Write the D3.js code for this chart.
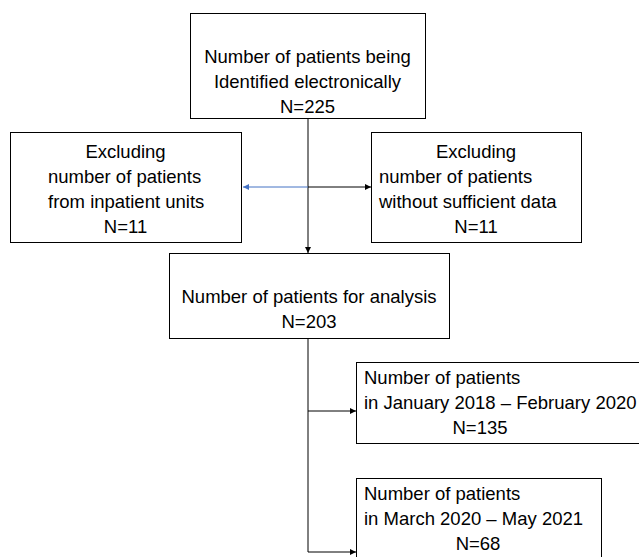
<!DOCTYPE html>
<html><head><meta charset="utf-8">
<script src="https://cdn.jsdelivr.net/npm/d3@7"></script>
<style>body{margin:0;background:#fff}</style>
</head><body>
<svg width="639" height="557"></svg>
<script>
const svg = d3.select('svg');

// flowchart content
const boxIds = ['identified', 'inpatient', 'insufficient', 'analysis', 'period1', 'period2'];
const boxLines = [
  [['Number of patients being', 'c'], ['Identified electronically', 'c'], ['N=225', 'c']],
  [['Excluding', 'c'], ['number of patients', 'l'], ['from inpatient units', 'l'], ['N=11', 'c']],
  [['Excluding', 'c'], ['number of patients', 'l'], ['without sufficient data', 'l'], ['N=11', 'c']],
  [['Number of patients for analysis', 'c'], ['N=203', 'c']],
  [['Number of patients', 'l'], ['in January 2018 \u2013 February 2020', 'l'], ['N=135', 'c']],
  [['Number of patients', 'l'], ['in March 2020 \u2013 May 2021', 'l'], ['N=68', 'c']]
];

// layout
const boxes = {
  identified:   {x: 190, y: 13,  w: 235, h: 105, top: 57, pad: 0},
  inpatient:    {x: 10,  y: 132, w: 231, h: 110, top: 152, pad: 38},
  insufficient: {x: 371, y: 132, w: 210, h: 110, top: 152, pad: 8},
  analysis:     {x: 169, y: 253, w: 280, h: 85,  top: 297, pad: 0},
  period1:      {x: 356, y: 362, w: 290, h: 81,  top: 378, pad: 8},
  period2:      {x: 356, y: 478, w: 245, h: 85,  top: 494, pad: 8}
};
const lineH = 25;

svg.append('defs').selectAll('marker')
  .data([['arrBlack', '#000'], ['arrBlue', '#4472c4']])
  .join('marker')
  .attr('id', d => d[0])
  .attr('viewBox', '0 0 10 10')
  .attr('refX', 10).attr('refY', 5)
  .attr('markerWidth', 6).attr('markerHeight', 6)
  .attr('orient', 'auto')
  .append('path').attr('d', 'M0,0 L10,5 L0,10 z').attr('fill', d => d[1]);

function line(pts, color, marker) {
  svg.append('path')
    .attr('d', d3.line()(pts))
    .attr('fill', 'none')
    .style('stroke', color)
    .style('stroke-width', 1)
    .attr('marker-end', marker ? `url(#${marker})` : null);
}

const cx = 308;
line([[cx, 118], [cx, 253]], '#000', 'arrBlack');
line([[cx, 187], [243, 187]], '#4472c4', 'arrBlue');
line([[cx, 187], [371, 187]], '#000', 'arrBlack');
line([[cx, 338], [cx, 552]], '#000');
line([[cx, 411], [356, 411]], '#000', 'arrBlack');
line([[cx, 552], [356, 552]], '#000', 'arrBlack');

boxIds.forEach((id, i) => {
  const b = boxes[id];
  const g = svg.append('g');
  g.append('rect')
    .attr('x', b.x + 0.5).attr('y', b.y + 0.5)
    .attr('width', b.w).attr('height', b.h)
    .attr('fill', '#fff').attr('stroke', '#000');
  const mid = id === 'period1' ? 480 : id === 'period2' ? 478 : b.x + b.w / 2;
  g.selectAll('text')
    .data(boxLines[i])
    .join('text')
    .attr('x', d => d[1] === 'c' ? mid : b.x + b.pad)
    .attr('y', (d, j) => b.top + j * lineH)
    .attr('dy', '0.35em')
    .attr('text-anchor', d => d[1] === 'c' ? 'middle' : 'start')
    .style('font-family', 'Liberation Sans, Arial, sans-serif')
    .style('font-size', '18.5px')
    .text(d => d[0]);
});
</script>
</body></html>
